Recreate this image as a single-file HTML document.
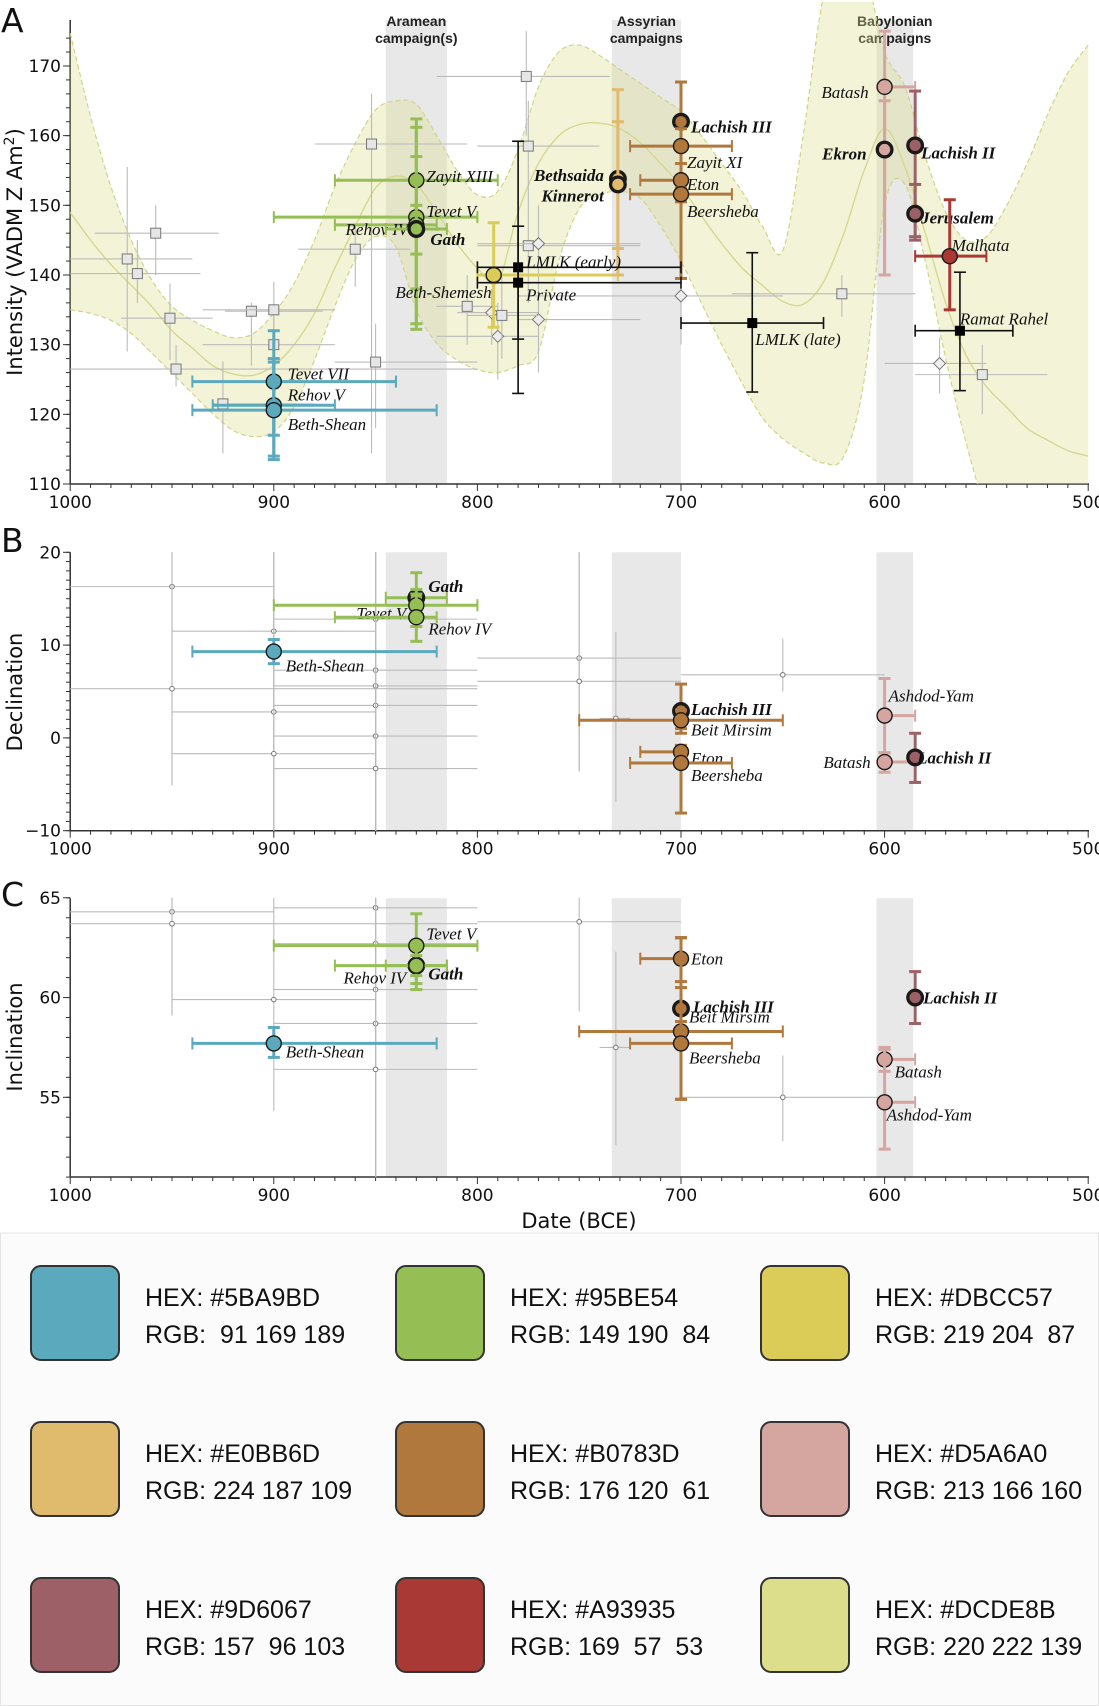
<!DOCTYPE html>
<html><head><meta charset="utf-8"><style>
html,body{margin:0;padding:0;background:#fff}
svg{display:block}
.tk{font-family:"DejaVu Sans","Liberation Sans",sans-serif;font-size:17px;fill:#111}
.lab{font-family:"Liberation Serif",serif;font-style:italic;font-size:17px;fill:#111}
.labb{font-family:"Liberation Serif",serif;font-style:italic;font-weight:bold;font-size:17px;fill:#111}
.camp{font-family:"Liberation Sans",sans-serif;font-weight:bold;font-size:14px;fill:#222}
.sw{font-family:"Liberation Sans",sans-serif;font-size:25px;fill:#111}
</style></head><body>
<svg id="fig" width="1099" height="1706" viewBox="0 0 1099 1706" xmlns="http://www.w3.org/2000/svg">
<defs>
<clipPath id="clipA"><rect x="70" y="2" width="1020" height="482"/></clipPath>
</defs>
<g id="gA"></g>
<g id="gB"></g>
<g id="gC"></g>
<g id="gS"></g>
</svg>
<script>
// ---------- data ----------
const colors = {blue:"#5BA9BD",green:"#95BE54",yellow:"#DBCC57",orange:"#E0BB6D",brown:"#B0783D",pink:"#D5A6A0",mauve:"#9D6067",red:"#A93935",black:"#111111"};
const campaignNames = ["Aramean|campaign(s)","Assyrian|campaigns","Babylonian|campaigns"];
const campaignStart = [845,734,604];
const campaignEnd = [815,700,586];
const xTicks = [1000,900,800,700,600,500];
const aTicks = [110,120,130,140,150,160,170];
const bTicks = [-10,0,10,20];
const cTicks = [55,60,65];

// curve fit band (panel A)
const bandYears = [1000,990,980,970,960,950,940,930,920,910,900,890,880,870,860,850,840,830,820,810,800,790,780,770,760,750,740,730,720,710,700,690,680,670,660,650,640,630,620,610,600,590,580,570,560,550,540,530,520,510,500];
const bandMean = [149,145,141.5,138.5,135.5,132,129.5,127,125.8,125.6,127,130,134.5,141,147,152.5,154.2,153,149,144.5,141,139,149,156,160,161.6,161.8,161,159,156,152.7,148.5,144.5,141,138.5,136.2,135.8,139,146,155,161,155.5,146,136,128.5,124,121,118,116.3,114.8,114];
const bandHi = [174.7,162.7,152.7,145,139.3,135.5,133.5,132,131,131.6,134.5,138.8,145,152.7,158.9,163.7,165,164.5,160,155,151.5,152,158,167,172,173,171.5,169.5,167.5,165.5,163.5,160,156,152,147,143.5,160,180,186,184,172,167,157,149,145,145.5,150,156,163,169,173];
const bandLo = [135,134.5,133.5,131.6,128.8,125.9,123,120.1,117.7,116.8,117.5,121.1,127.8,135.5,142.2,145.5,144,135,130.2,127.8,126.4,126,127,129,142,149.5,151.5,152,151,147,142,136,130,124.5,119.5,116.5,114.5,113,114,125,150,153,142,128,116,106,100,97,95,94,93];

// panel A highlighted sites
const aSites = ["Tevet VII","Rehov V","Beth-Shean","Zayit XIII","Tevet V","Rehov IV","Gath","Beth-Shemesh","Bethsaida","Kinnerot","Lachish III","Zayit XI","Eton","Beersheba","LMLK (early)","Private","LMLK (late)","Ramat Rahel","Batash","Ekron","Lachish II","Jerusalem","Malhata"];
const aYear = [900,900,900,830,830,830,830,792,731,731,700,700,700,700,780,780,665,563,600,600,585,585,568];
const aVal = [124.7,121.3,120.6,153.6,148.3,147.2,146.6,140,153.8,153.0,162,158.5,153.6,151.6,141.1,138.9,133.1,132,167,158,158.6,148.8,142.7];
const aXlo = [940,930,940,870,900,870,845,800,731,731,700,725,720,725,800,800,700,585,600,600,585,585,585];
const aXhi = [840,870,820,790,800,820,815,731,731,731,700,675,700,675,700,700,630,537,585,600,585,585,550];
const aYlo = [113.5,117,114,133,132.2,143,138,132.5,143.8,140,139.5,156,151,150.5,123,130.8,123.2,123.4,140,140,145.5,145,135];
const aYhi = [132,127.5,128,162.4,161.2,150,157,147.5,166.6,162,167.7,161,156,152.5,159.2,147,143.2,140.4,175,165,166.4,153,150.8];
const aColor = ["blue","blue","blue","green","green","green","green","yellow","orange","orange","brown","brown","brown","brown","black","black","black","black","pink","pink","mauve","mauve","red"];
const aBold = [0,0,0,0,0,0,1,0,1,1,1,0,0,0,0,0,0,0,0,1,1,1,0];
const aLabelDx = [14,14,14,10,10,-8,14,-2,-14,-14,10,6,6,6,8,8,3,0,-16,-18,6,6,2];
const aLabelDy = [-2,-5,20,2,0,10,16,23,2,17,11,22,10,23,0,18,22,-6,11,10,13,10,-5];

// panel A background (grey) data
const gYear = [972,967,958,951,948,925,911,900,900,860,852,850,805,776,775,775,790,793,770,770,700,573,788,621,552];
const gVal = [142.3,140.2,146,133.8,126.5,121.5,134.8,135,130,143.7,158.8,127.5,135.5,168.5,158.5,144.2,131.2,134.6,144.5,133.6,137,127.3,134.2,137.3,125.7];
const gXlo = [1000,1000,988,975,1000,930,924,935,935,888,880,870,820,820,800,800,820,810,800,780,780,600,805,675,585];
const gXhi = [940,936,927,930,800,880,876,870,870,833,805,800,790,735,740,720,770,770,720,720,650,550,770,585,520];
const gYlo = [129,136,140,127.8,124,114.4,127,131,128,138.3,114.4,118,130,160,150,136,125,130,138,126,130,123,128,134,120];
const gYhi = [155.5,145,150,138.8,130,127.6,136,139,134,147,166,133,140,175,165,150,136,138,150,140,142,131,140,140,130];
const gShape = ["s","s","s","s","s","s","s","s","s","s","s","s","s","s","s","s","d","d","d","d","d","d","s","s","s"];

// panel B
const bSites = ["Beth-Shean","Gath","Tevet V","Rehov IV","Lachish III","Beit Mirsim","Eton","Beersheba","Ashdod-Yam","Batash","Lachish II"];
const bYear = [900,830,830,830,700,700,700,700,600,600,585];
const bVal = [9.3,15.1,14.3,13.0,2.9,1.9,-1.5,-2.7,2.4,-2.6,-2.1];
const bXlo = [940,845,900,870,700,750,720,725,600,600,585];
const bXhi = [820,815,800,820,700,650,700,675,585,585,585];
const bYlo = [8.0,13.5,12,10.4,1,0.5,-2.2,-8.1,-1.6,-3.7,-4.8];
const bYhi = [10.6,17.8,16,15.5,5.8,3,-0.8,-2,6.4,-1.6,0.5];
const bColor = ["blue","green","green","green","brown","brown","brown","brown","pink","pink","mauve"];
const bBold = [0,1,0,0,1,0,0,0,0,0,1];
const bLabelDx = [12,12,-10,12,10,10,10,10,4,-14,2];
const bLabelDy = [20,-6,14,17,4,15,12,18,-14,6,6];
const bGrayYear = [950,950,900,900,900,850,850,850,850,850,850,750,750,732,650];
const bGrayVal = [16.3,5.3,11.5,2.8,-1.7,12.8,7.3,5.6,3.5,0.2,-3.3,8.6,6.1,2.1,6.8];
const bGrayXlo = [1000,1000,950,950,950,900,900,900,900,900,900,800,800,740,700];
const bGrayXhi = [900,800,850,850,850,800,800,800,800,800,800,700,700,725,600];
const bGrayYlo = [-5.1,-5.1,-10,-10,-10,-10,-10,-10,-10,-10,-10,-3.6,-3.6,-6.9,5];
const bGrayYhi = [20,20,20,20,20,20,20,20,20,20,20,20,20,11.4,10.7];

// panel C
const cSites = ["Beth-Shean","Tevet V","Gath","Rehov IV","Eton","Lachish III","Beit Mirsim","Beersheba","Batash","Ashdod-Yam","Lachish II"];
const cYear = [900,830,830,830,700,700,700,700,600,600,585];
const cVal = [57.7,62.6,61.6,61.6,61.95,59.45,58.3,57.7,56.9,54.75,60];
const cXlo = [940,900,845,870,720,700,750,725,600,600,585];
const cXhi = [820,800,815,815,700,700,650,675,585,585,585];
const cYlo = [57.0,60.4,60.7,61.1,60.5,58.8,54.9,54.9,56.3,52.4,58.7];
const cYhi = [58.5,64.2,62.5,62.1,63.0,60.8,63.0,63.0,57.5,57.4,61.3];
const cColor = ["blue","green","green","green","brown","brown","brown","brown","pink","pink","mauve"];
const cBold = [0,0,1,0,0,1,0,0,0,0,1];
const cLabelDx = [12,10,12,-10,10,12,8,8,10,2,8];
const cLabelDy = [14,-6,14,18,6,4,-9,20,18,18,6];
const cGrayYear = [950,950,750,850,850,850,850,850,900,732,650];
const cGrayVal = [64.3,63.7,63.8,64.5,62.7,60.4,58.7,56.4,59.9,57.5,55.0];
const cGrayXlo = [1000,1000,800,900,900,900,900,900,950,740,700];
const cGrayXhi = [900,800,700,800,800,800,800,800,850,725,600];
const cGrayYlo = [59.1,59.1,59.3,51,51,51,51,51,54.3,52.6,52.8];
const cGrayYhi = [65,65,65,65,65,65,65,65,65,62.3,57.1];

// swatches
const swHex = ["#5BA9BD","#95BE54","#DBCC57","#E0BB6D","#B0783D","#D5A6A0","#9D6067","#A93935","#DCDE8B"];
const swRgb = [" 91 169 189","149 190  84","219 204  87","224 187 109","176 120  61","213 166 160","157  96 103","169  57  53","220 222 139"];

// ---------- helpers ----------
const NS = "http://www.w3.org/2000/svg";
function mk(tag, attrs, parent){
  const e = document.createElementNS(NS, tag);
  for (const k in attrs) e.setAttribute(k, attrs[k]);
  parent.appendChild(e);
  return e;
}
const X = yr => 70.2 + (1000 - yr) * 2.036;
const YA = v => 484 - (v - 110) * 6.967;
const YB = v => 830.7 - (v + 10) * 9.28;
const YC = v => 1097.3 - (v - 55) * 19.95;

function smoothPath(pts){
  let d = "M" + pts[0][0].toFixed(1) + "," + pts[0][1].toFixed(1);
  for (let i = 0; i < pts.length - 1; i++){
    const p0 = pts[Math.max(0,i-1)], p1 = pts[i], p2 = pts[i+1], p3 = pts[Math.min(pts.length-1,i+2)];
    const c1x = p1[0] + (p2[0]-p0[0])/6, c1y = p1[1] + (p2[1]-p0[1])/6;
    const c2x = p2[0] - (p3[0]-p1[0])/6, c2y = p2[1] - (p3[1]-p1[1])/6;
    d += " C" + c1x.toFixed(1) + "," + c1y.toFixed(1) + " " + c2x.toFixed(1) + "," + c2y.toFixed(1) + " " + p2[0].toFixed(1) + "," + p2[1].toFixed(1);
  }
  return d;
}

function drawAxes(g, Y, yTicks, yMinor, yBottom, yTop, yTitle, yTitleY, letter, letterY){
  for (let i = 0; i < campaignStart.length; i++){
    const r = mk("rect", {x:X(campaignStart[i]), y:yTop, width:X(campaignEnd[i])-X(campaignStart[i]), height:yBottom-yTop, fill:"#e8e8e8"}, g);
    
    
  }
  const ax = mk("g", {}, g);
  
  
  mk("line", {x1:70.2, y1:yTop, x2:70.2, y2:yBottom, stroke:"#333", "stroke-width":1.5}, ax);
  mk("line", {x1:70.2, y1:yBottom, x2:1089, y2:yBottom, stroke:"#333", "stroke-width":1.5}, ax);
  for (let yr = 1000; yr >= 500; yr -= 10){
    const major = yr % 100 === 0;
    mk("line", {x1:X(yr), y1:yBottom, x2:X(yr), y2:yBottom + (major?7:4), stroke:"#333", "stroke-width":1}, ax);
  }
  xTicks.forEach(t => {
    const tx = mk("text", {x:X(t), y:yBottom + 24, "text-anchor":"middle", class:"tk"}, ax);
    tx.textContent = t;
    
    
  });
  yMinor.forEach(v => {
    mk("line", {x1:70.2, y1:Y(v), x2:66, y2:Y(v), stroke:"#333", "stroke-width":1}, ax);
  });
  yTicks.forEach(t => {
    mk("line", {x1:70.2, y1:Y(t), x2:63, y2:Y(t), stroke:"#333", "stroke-width":1}, ax);
    const tx = mk("text", {x:61, y:Y(t)+6, "text-anchor":"end", class:"tk"}, ax);
    tx.textContent = t < 0 ? "\u2212" + Math.abs(t) : t;
    
    
  });
  const tt = mk("text", {x:0, y:0, transform:"translate(22," + yTitleY + ") rotate(-90)", "text-anchor":"middle", style:"font-family:'DejaVu Sans',sans-serif;font-size:21px;fill:#111"}, g);
  tt.innerHTML = yTitle;
  
  
  const lt = mk("text", {x:1, y:letterY, style:"font-family:'DejaVu Sans',sans-serif;font-size:33px;fill:#111"}, g);
  lt.textContent = letter;
  
  
}

function grayPoint(g, Y, yr, v, xlo, xhi, ylo, yhi, shape){
  const p = mk("g", {}, g);
  
  
  mk("line", {x1:X(xlo), y1:Y(v), x2:X(xhi), y2:Y(v), stroke:"#bbb", "stroke-width":1.1}, p);
  mk("line", {x1:X(yr), y1:Y(ylo), x2:X(yr), y2:Y(yhi), stroke:"#bbb", "stroke-width":1.1}, p);
  const cx = X(yr), cy = Y(v);
  if (shape === "s") mk("rect", {x:cx-5, y:cy-5, width:10, height:10, fill:"#e6e6e6", stroke:"#777", "stroke-width":1}, p);
  else if (shape === "d") mk("path", {d:"M"+cx+","+(cy-6)+" L"+(cx+6)+","+cy+" L"+cx+","+(cy+6)+" L"+(cx-6)+","+cy+"Z", fill:"#eee", stroke:"#777", "stroke-width":1}, p);
  else mk("circle", {cx:cx, cy:cy, r:2.3, fill:"#fff", stroke:"#777", "stroke-width":1}, p);
}

function sitePoint(g, Y, site, yr, v, xlo, xhi, ylo, yhi, colorKey, bold, dx, dy){
  const p = mk("g", {}, g);
  
  
  const col = colors[colorKey];
  const isBlack = colorKey === "black";
  const w = isBlack ? 1.6 : 3;
  const cap = 6;
  const cx = X(yr), cy = Y(v);
  if (xlo !== xhi){
    mk("line", {x1:X(xlo), y1:cy, x2:X(xhi), y2:cy, stroke:col, "stroke-width":w}, p);
    mk("line", {x1:X(xlo), y1:cy-cap, x2:X(xlo), y2:cy+cap, stroke:col, "stroke-width":isBlack?1.6:2}, p);
    mk("line", {x1:X(xhi), y1:cy-cap, x2:X(xhi), y2:cy+cap, stroke:col, "stroke-width":isBlack?1.6:2}, p);
  }
  mk("line", {x1:cx, y1:Y(ylo), x2:cx, y2:Y(yhi), stroke:col, "stroke-width":w}, p);
  mk("line", {x1:cx-cap, y1:Y(ylo), x2:cx+cap, y2:Y(ylo), stroke:col, "stroke-width":isBlack?1.6:3}, p);
  mk("line", {x1:cx-cap, y1:Y(yhi), x2:cx+cap, y2:Y(yhi), stroke:col, "stroke-width":isBlack?1.6:3}, p);
  if (isBlack) mk("rect", {x:cx-5, y:cy-5, width:10, height:10, fill:"#000"}, p);
  else mk("circle", {cx:cx, cy:cy, r:bold?7.3:7.5, fill:col, stroke:"#1a1a1a", "stroke-width":bold?3.3:1.4}, p);
  const t = mk("text", {x:cx+dx, y:cy+dy, "text-anchor":dx<0?"end":"start", class:bold?"labb":"lab"}, p);
  t.textContent = site;
}

// ---------- panel A ----------
const gA = document.getElementById("gA");
const a2 = [];
for (let v = 110; v <= 174; v += 2) a2.push(v);
drawAxes(gA, YA, aTicks, a2, 484, 20, "Intensity (VADM Z Am<tspan baseline-shift='super' font-size='14'>2</tspan>)", 252, "A", 32);
for (let i = 0; i < campaignNames.length; i++){
  const parts = campaignNames[i].split("|");
  const cx = (X(campaignStart[i]) + X(campaignEnd[i])) / 2;
  parts.forEach((s, j) => {
    const t = mk("text", {x:cx, y:26 + j*17, "text-anchor":"middle", class:"camp"}, gA);
    t.textContent = s;
    
    
  });
}
const bandG = mk("g", {"clip-path":"url(#clipA)"}, gA);


const hiPts = bandYears.map((y,i) => [X(y), YA(bandHi[i])]);
const loPts = bandYears.map((y,i) => [X(y), YA(bandLo[i])]);
const meanPts = bandYears.map((y,i) => [X(y), YA(bandMean[i])]);
const loRev = loPts.slice().reverse();
const fillD = smoothPath(hiPts) + " L" + smoothPath(loRev).slice(1) + " Z";
mk("path", {d:fillD, fill:"#DCDE8B", "fill-opacity":0.35, stroke:"none"}, bandG);
mk("path", {d:smoothPath(hiPts), fill:"none", stroke:"#d2d48a", "stroke-width":1.2, "stroke-dasharray":"5,3"}, bandG);
mk("path", {d:smoothPath(loPts), fill:"none", stroke:"#d2d48a", "stroke-width":1.2, "stroke-dasharray":"5,3"}, bandG);
const mline = mk("path", {d:smoothPath(meanPts), fill:"none", stroke:"#d6d88e", "stroke-width":1.4}, bandG);


for (let i = 0; i < gYear.length; i++) grayPoint(gA, YA, gYear[i], gVal[i], gXlo[i], gXhi[i], gYlo[i], gYhi[i], gShape[i]);
for (let i = 0; i < aSites.length; i++) sitePoint(gA, YA, aSites[i], aYear[i], aVal[i], aXlo[i], aXhi[i], aYlo[i], aYhi[i], aColor[i], aBold[i], aLabelDx[i], aLabelDy[i]);

// ---------- panel B ----------
const gB = document.getElementById("gB");
const b1 = [];
for (let v = -10; v <= 20; v += 1) b1.push(v);
drawAxes(gB, YB, bTicks, b1, 830.7, 552.3, "Declination", 692, "B", 552);
for (let i = 0; i < bGrayYear.length; i++) grayPoint(gB, YB, bGrayYear[i], bGrayVal[i], bGrayXlo[i], bGrayXhi[i], bGrayYlo[i], bGrayYhi[i], "o");
for (let i = 0; i < bSites.length; i++) sitePoint(gB, YB, bSites[i], bYear[i], bVal[i], bXlo[i], bXhi[i], bYlo[i], bYhi[i], bColor[i], bBold[i], bLabelDx[i], bLabelDy[i]);

// ---------- panel C ----------
const gC = document.getElementById("gC");
const c1 = [];
for (let v = 51; v <= 65; v += 1) c1.push(v);
drawAxes(gC, YC, cTicks, c1, 1177, 898.3, "Inclination", 1037, "C", 906);
for (let i = 0; i < cGrayYear.length; i++) grayPoint(gC, YC, cGrayYear[i], cGrayVal[i], cGrayXlo[i], cGrayXhi[i], cGrayYlo[i], cGrayYhi[i], "o");
for (let i = 0; i < cSites.length; i++) sitePoint(gC, YC, cSites[i], cYear[i], cVal[i], cXlo[i], cXhi[i], cYlo[i], cYhi[i], cColor[i], cBold[i], cLabelDx[i], cLabelDy[i]);
const xt = mk("text", {x:579, y:1228, "text-anchor":"middle", style:"font-family:'DejaVu Sans',sans-serif;font-size:21px;fill:#111"}, gC);
xt.textContent = "Date (BCE)";



// ---------- swatches ----------
const gS = document.getElementById("gS");
const bg = mk("rect", {x:0.5, y:1233, width:1098, height:472.5, fill:"#fbfbfb", stroke:"#e4e4e4", "stroke-width":1}, gS);


const colX = [31, 396, 761];
const rowY = [1266, 1422, 1578];
for (let i = 0; i < swHex.length; i++){
  const cx = colX[i % 3], cy = rowY[Math.floor(i / 3)];
  const sg = mk("g", {}, gS);
  
  
  mk("rect", {x:cx, y:cy, width:88, height:94, rx:10, fill:swHex[i], stroke:"#333", "stroke-width":2}, sg);
  const t1 = mk("text", {x:cx+114, y:cy+40, class:"sw", style:"white-space:pre"}, sg);
  t1.textContent = "HEX: " + swHex[i];
  const t2 = mk("text", {x:cx+114, y:cy+77, class:"sw", style:"white-space:pre"}, sg);
  t2.textContent = "RGB: " + swRgb[i];
}
</script>
</body></html>
